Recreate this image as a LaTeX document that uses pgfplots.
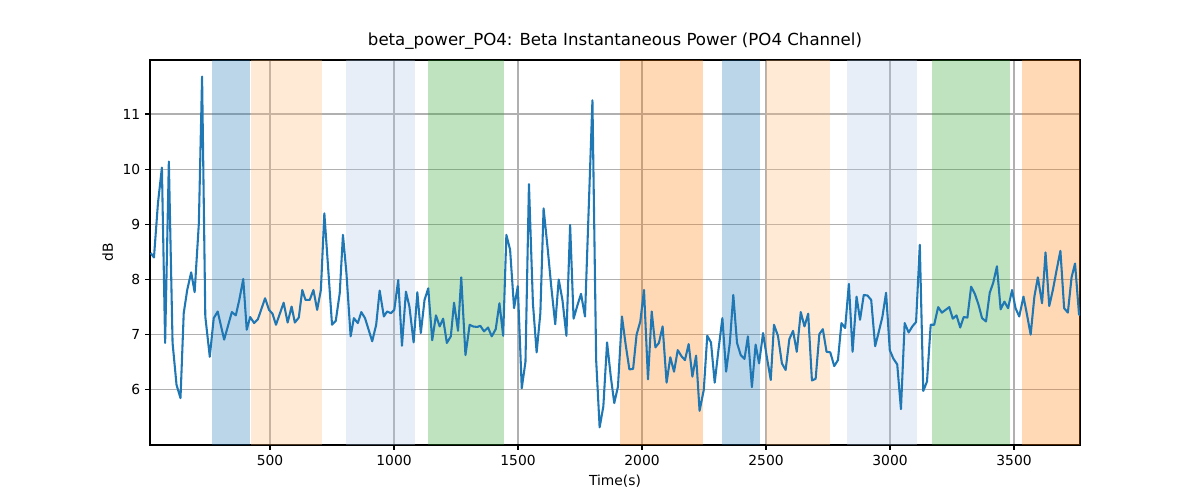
\documentclass[border=0pt]{standalone}
\usepackage{fontspec}
\setmainfont{DejaVu Sans}
\usepackage{pgfplots}
\pgfplotsset{compat=1.18}
\definecolor{cblue}{HTML}{1F77B4}
\definecolor{corange}{HTML}{FF7F0E}
\definecolor{clorange}{HTML}{FFBB78}
\definecolor{clblue}{HTML}{AEC7E8}
\definecolor{cgreen}{HTML}{2CA02C}
\begin{document}
\begin{tikzpicture}
\path[use as bounding box] (-1.5in,-0.55in) rectangle (10.5in,4.45in);
\begin{axis}[at={(0,0)},anchor=south west,
  scale only axis, width=9.3in, height=3.85in,
  xmin=16, xmax=3766, ymin=5.0, ymax=11.98,
  xtick={500,1000,...,3500}, ytick={6,7,...,11},
  tick pos=left,
  grid=major, grid style={color=black!31, line width=0.8pt},
  tick align=outside, tick style={black, line width=0.8pt},
  major tick length=3.5pt,
  axis line style={line width=0.8pt},
  ticklabel style={font=\fontsize{10}{12}\selectfont},
  /pgf/number format/assume math mode=true,
  /pgf/number format/1000 sep={},
  xlabel={Time(s)}, ylabel={dB},
  label style={font=\fontsize{10}{12}\selectfont},
  title={beta\_power\_PO4: Beta Instantaneous Power (PO4 Channel)},
  title style={font=\fontsize{12}{14}\selectfont, yshift=-2pt},
  band/.style={draw=none, fill=#1, fill opacity=0.3, forget plot},
]
\addplot[band=cblue] coordinates {(266,5) (421,5) (421,11.98) (266,11.98)} --cycle;
\addplot[band=clorange] coordinates {(422,5) (710,5) (710,11.98) (422,11.98)} --cycle;
\addplot[band=clblue] coordinates {(805,5) (1084,5) (1084,11.98) (805,11.98)} --cycle;
\addplot[band=cgreen] coordinates {(1138,5) (1445,5) (1445,11.98) (1138,11.98)} --cycle;
\addplot[band=corange] coordinates {(1910,5) (2247,5) (2247,11.98) (1910,11.98)} --cycle;
\addplot[band=cblue] coordinates {(2322,5) (2477,5) (2477,11.98) (2322,11.98)} --cycle;
\addplot[band=clorange] coordinates {(2500,5) (2757,5) (2757,11.98) (2500,11.98)} --cycle;
\addplot[band=clblue] coordinates {(2826,5) (3107,5) (3107,11.98) (2826,11.98)} --cycle;
\addplot[band=cgreen] coordinates {(3168,5) (3484,5) (3484,11.98) (3168,11.98)} --cycle;
\addplot[band=corange] coordinates {(3533,5) (3766,5) (3766,11.98) (3533,11.98)} --cycle;
\addplot[cblue, line width=1.5pt, line join=round] table {
19 8.48
32 8.40
48 9.38
64 10.03
77 6.85
92 10.14
107 6.85
123 6.09
139 5.85
152 7.39
166 7.81
182 8.13
196 7.77
213 9.02
226 11.68
239 7.33
257 6.60
273 7.30
289 7.42
315 6.91
346 7.41
362 7.35
376 7.63
392 8.01
406 7.09
420 7.32
436 7.21
451 7.28
480 7.66
496 7.45
510 7.38
524 7.18
555 7.58
571 7.22
587 7.51
600 7.22
616 7.31
630 7.81
643 7.63
660 7.63
675 7.81
690 7.45
705 7.81
719 9.20
734 8.23
750 7.18
765 7.25
781 7.75
794 8.81
808 8.12
825 6.97
838 7.30
854 7.21
868 7.41
883 7.30
912 6.88
928 7.18
942 7.80
959 7.33
972 7.42
988 7.39
1001 7.45
1017 7.99
1032 6.80
1048 7.78
1062 7.51
1079 6.86
1094 7.77
1108 7.03
1123 7.63
1138 7.84
1154 6.90
1169 7.35
1184 7.15
1198 7.29
1213 6.85
1229 6.97
1242 7.58
1258 7.07
1271 8.04
1288 6.63
1305 7.18
1318 7.15
1335 7.14
1348 7.16
1363 7.06
1379 7.13
1394 6.97
1410 7.10
1425 7.57
1440 6.98
1453 8.81
1468 8.54
1484 7.48
1499 7.88
1515 6.03
1530 6.51
1544 9.73
1560 7.57
1575 6.68
1590 7.39
1603 9.29
1620 8.54
1634 7.87
1650 7.19
1664 8.00
1679 7.63
1695 6.98
1710 8.99
1724 7.29
1740 7.54
1754 7.74
1770 7.33
1800 11.25
1815 6.54
1829 5.32
1844 5.70
1859 6.86
1874 6.24
1888 5.76
1903 6.06
1919 7.33
1934 6.82
1949 6.37
1964 6.38
1978 7.00
1993 7.24
2008 7.81
2024 6.19
2039 7.42
2054 6.77
2068 6.85
2083 7.15
2099 6.13
2114 6.59
2129 6.33
2144 6.72
2159 6.61
2173 6.54
2188 6.83
2203 6.24
2218 6.62
2232 5.62
2249 6.00
2263 6.98
2278 6.86
2293 6.13
2308 6.72
2324 7.30
2339 6.33
2354 6.85
2368 7.72
2383 6.85
2398 6.63
2413 6.56
2427 6.97
2443 6.05
2458 6.82
2472 6.48
2488 7.03
2503 6.60
2519 6.18
2532 7.18
2548 6.98
2564 6.48
2579 6.36
2594 6.92
2609 7.07
2624 6.69
2640 7.41
2655 7.15
2670 7.38
2685 6.17
2700 6.20
2715 7.01
2729 7.10
2744 6.69
2759 6.68
2775 6.43
2790 6.54
2804 7.21
2819 7.12
2834 7.92
2849 6.69
2865 7.69
2879 7.27
2894 7.72
2909 7.71
2924 7.63
2940 6.79
2954 7.04
2969 7.32
2984 7.76
2999 6.72
3013 6.57
3029 6.46
3044 5.65
3059 7.21
3075 7.04
3090 7.15
3105 7.23
3120 8.63
3134 5.98
3149 6.15
3164 7.18
3178 7.18
3194 7.50
3209 7.40
3224 7.45
3239 7.50
3253 7.29
3268 7.35
3283 7.13
3297 7.32
3312 7.31
3327 7.87
3342 7.74
3357 7.54
3371 7.30
3387 7.24
3402 7.76
3416 7.94
3431 8.24
3446 7.46
3461 7.60
3476 7.48
3492 7.81
3506 7.48
3521 7.33
3538 7.69
3552 7.37
3567 7.00
3582 7.69
3596 8.04
3613 7.57
3627 8.49
3642 7.52
3657 7.82
3672 8.18
3687 8.52
3702 7.48
3717 7.40
3732 8.04
3746 8.29
3762 7.37
3766 7.35
};
\end{axis}
\end{tikzpicture}
\end{document}
